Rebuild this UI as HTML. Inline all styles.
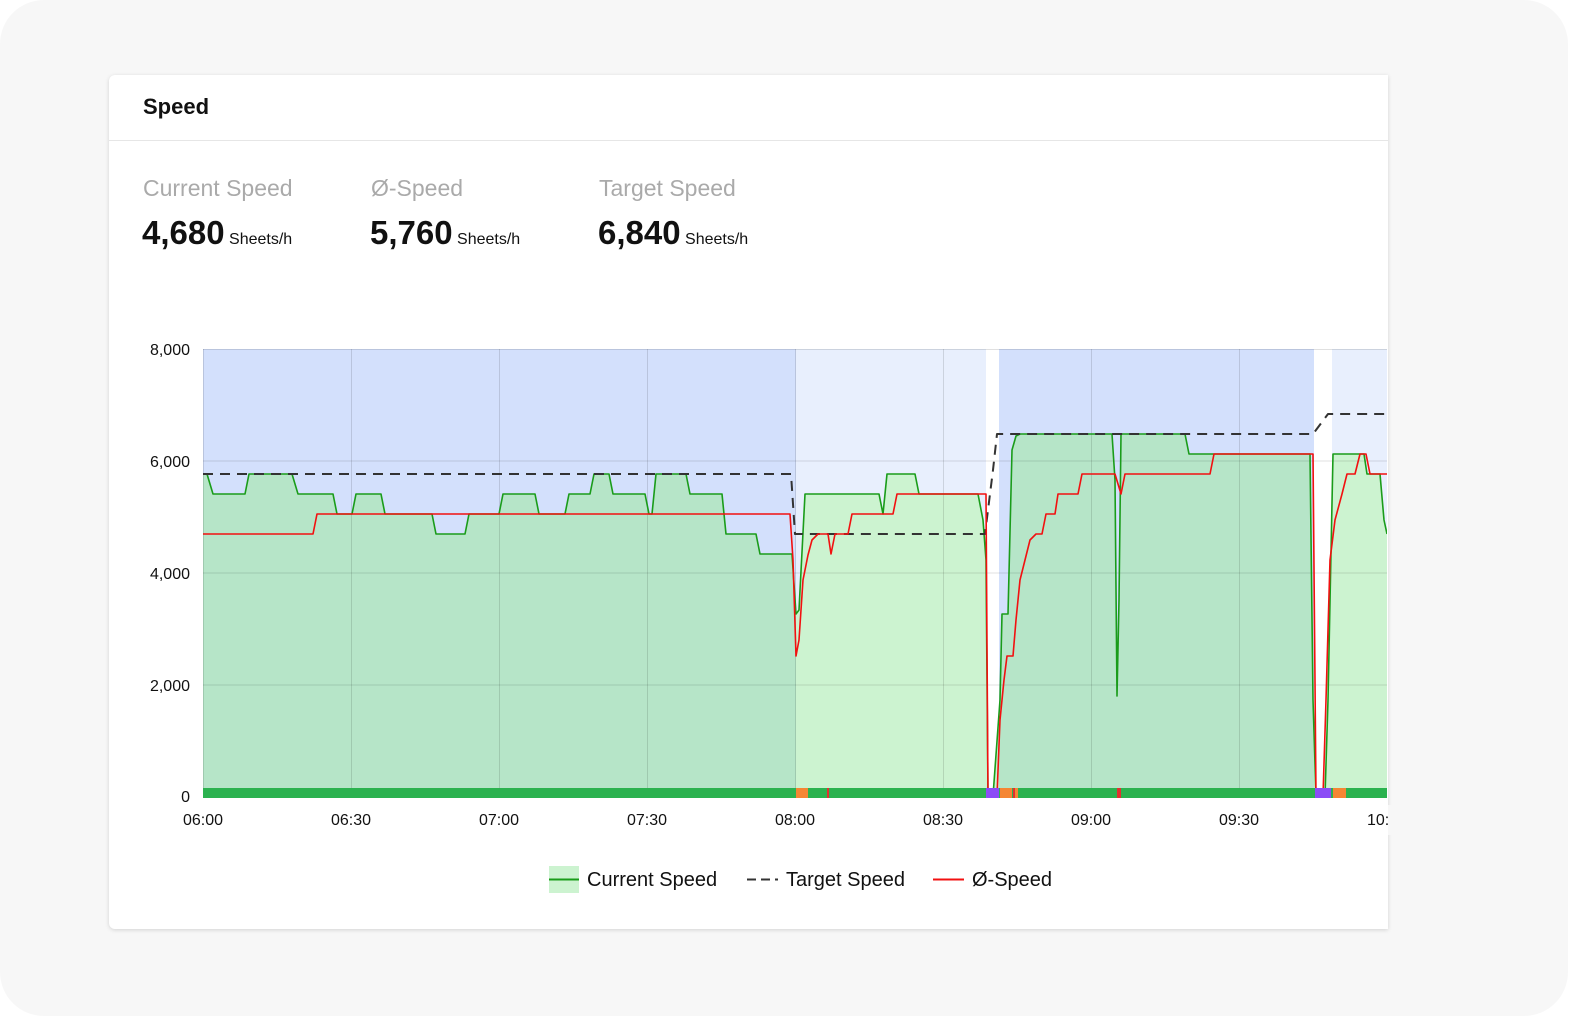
<!DOCTYPE html>
<html><head><meta charset="utf-8"><style>
html,body{margin:0;padding:0;width:1574px;height:1020px;overflow:hidden;background:#fff;font-family:"Liberation Sans",sans-serif}
.outer{position:absolute;left:0;top:0;width:1568px;height:1016px;background:#f7f7f7;border-radius:44px}
.card{position:absolute;left:109px;top:75px;width:1279px;height:854px;background:#fff;border-radius:6px 0 0 6px;box-shadow:0 1px 4px rgba(0,0,0,.15)}
.t{position:absolute;white-space:nowrap}
</style></head><body>
<div class="outer"></div>
<div class="card"></div>
<div class="t" style="left:143px;top:94px;font-size:22px;font-weight:bold;color:#111">Speed</div>
<div style="position:absolute;left:109px;top:140px;width:1279px;height:1px;background:#e6e6e6"></div>
<div class="t" style="left:143px;top:175px;font-size:23px;color:#aaa">Current Speed</div>
<div class="t" style="left:371px;top:175px;font-size:23px;color:#aaa">Ø-Speed</div>
<div class="t" style="left:599px;top:175px;font-size:23px;color:#aaa">Target Speed</div>
<div class="t" style="left:142px;top:214px;color:#111"><b style="font-size:33px">4,680</b><span style="font-size:16px"> Sheets/h</span></div>
<div class="t" style="left:370px;top:214px;color:#111"><b style="font-size:33px">5,760</b><span style="font-size:16px"> Sheets/h</span></div>
<div class="t" style="left:598px;top:214px;color:#111"><b style="font-size:33px">6,840</b><span style="font-size:16px"> Sheets/h</span></div>
<svg width="1574" height="1020" style="position:absolute;left:0;top:0" font-family="Liberation Sans,sans-serif">
<defs>
<clipPath id="dk"><rect x="203" y="349" width="593" height="448"/><rect x="999" y="349" width="315" height="448"/></clipPath>
<clipPath id="lt"><rect x="796" y="349" width="203" height="448"/><rect x="1314" y="349" width="73" height="448"/></clipPath>
<clipPath id="ch"><rect x="203" y="340" width="1184" height="460"/></clipPath>
</defs>
<rect x="203" y="349" width="593" height="448" fill="#d3e0fc"/>
<rect x="796" y="349" width="190" height="448" fill="#e8effd"/>
<rect x="999" y="349" width="315" height="448" fill="#d3e0fc"/>
<rect x="1332" y="349" width="55" height="448" fill="#e8effd"/>
<path d="M203,796 L203,474 207,474 213,494 245,494 249,474 292,474 298,494 333,494 337,514 352,514 356,494 381,494 385,514 432,514 436,534 465,534 469,514 499,514 503,494 535,494 539,514 565,514 569,494 590,494 594,474 609,474 613,494 645,494 649,514 652,514 656,474 686,474 690,494 722,494 726,534 756,534 760,554 792,554 796,614 799,610 805,494 879,494 883,514 887,474 915,474 919,494 978,494 983,520 986,560 988,796 993,796 1000,700 1002,614 1008,614 1012,450 1016,436 1020,434 1112,434 1115,480 1117,696 1119,600 1121,434 1185,434 1189,454 1310,454 1313,700 1316,796 1325,796 1328,700 1333,454 1364,454 1367,474 1380,474 1384,520 1387,534 1387,796 Z" fill="#b6e5c8" clip-path="url(#dk)"/>
<path d="M203,796 L203,474 207,474 213,494 245,494 249,474 292,474 298,494 333,494 337,514 352,514 356,494 381,494 385,514 432,514 436,534 465,534 469,514 499,514 503,494 535,494 539,514 565,514 569,494 590,494 594,474 609,474 613,494 645,494 649,514 652,514 656,474 686,474 690,494 722,494 726,534 756,534 760,554 792,554 796,614 799,610 805,494 879,494 883,514 887,474 915,474 919,494 978,494 983,520 986,560 988,796 993,796 1000,700 1002,614 1008,614 1012,450 1016,436 1020,434 1112,434 1115,480 1117,696 1119,600 1121,434 1185,434 1189,454 1310,454 1313,700 1316,796 1325,796 1328,700 1333,454 1364,454 1367,474 1380,474 1384,520 1387,534 1387,796 Z" fill="#ccf3d0" clip-path="url(#lt)"/>
<g stroke="rgba(0,0,0,0.12)" stroke-width="1">
<line x1="203" x2="1387" y1="349.5" y2="349.5"/><line x1="203" x2="1387" y1="461" y2="461"/><line x1="203" x2="1387" y1="573" y2="573"/><line x1="203" x2="1387" y1="685" y2="685"/>
<line x1="203.5" x2="203.5" y1="349" y2="797"/><line x1="351.5" x2="351.5" y1="349" y2="797"/><line x1="499.5" x2="499.5" y1="349" y2="797"/><line x1="647.5" x2="647.5" y1="349" y2="797"/><line x1="795.5" x2="795.5" y1="349" y2="797"/><line x1="943.5" x2="943.5" y1="349" y2="797"/><line x1="1091.5" x2="1091.5" y1="349" y2="797"/><line x1="1239.5" x2="1239.5" y1="349" y2="797"/>
</g>
<g clip-path="url(#ch)" fill="none" stroke-width="1.6" stroke-linejoin="round">
<path stroke="#1a9c1a" d="M203,474 207,474 213,494 245,494 249,474 292,474 298,494 333,494 337,514 352,514 356,494 381,494 385,514 432,514 436,534 465,534 469,514 499,514 503,494 535,494 539,514 565,514 569,494 590,494 594,474 609,474 613,494 645,494 649,514 652,514 656,474 686,474 690,494 722,494 726,534 756,534 760,554 792,554 796,614 799,610 805,494 879,494 883,514 887,474 915,474 919,494 978,494 983,520 986,560 988,796 993,796 1000,700 1002,614 1008,614 1012,450 1016,436 1020,434 1112,434 1115,480 1117,696 1119,600 1121,434 1185,434 1189,454 1310,454 1313,700 1316,796 1325,796 1328,700 1333,454 1364,454 1367,474 1380,474 1384,520 1387,534"/>
<path stroke="#333" stroke-width="2" stroke-dasharray="10,7" d="M203,474 791,474 795,534 985,534 993,470 997,434 1313,434 1328,414 1387,414"/>
<path stroke="#f21010" d="M203,534 313,534 317,514 790,514 793,560 796,656 799,640 803,580 808,555 812,540 818,534 828,534 831,554 835,534 848,534 852,514 893,514 897,494 986,494 988,796 997,796 1000,720 1004,680 1007,656 1013,656 1016,620 1020,580 1025,560 1030,540 1036,534 1042,534 1046,514 1055,514 1058,494 1078,494 1082,474 1115,474 1121,494 1125,474 1210,474 1214,454 1313,454 1316,796 1323,796 1326,700 1330,560 1335,520 1342,494 1347,474 1355,474 1360,454 1366,454 1370,474 1387,474"/>
</g>
<rect x="203" y="788" width="1184" height="10" fill="#2bb24f"/>
<rect x="796" y="788" width="12" height="10" fill="#f58634"/>
<rect x="827" y="788" width="2" height="10" fill="#e23030"/>
<rect x="986" y="788" width="13" height="10" fill="#8b4cf6"/>
<rect x="1000" y="788" width="12" height="10" fill="#f58634"/>
<rect x="1013" y="788" width="2" height="10" fill="#e23030"/>
<rect x="1015" y="788" width="3" height="10" fill="#f58634"/>
<rect x="1117" y="788" width="4" height="10" fill="#e23030"/>
<rect x="1315" y="788" width="16" height="10" fill="#8b4cf6"/>
<rect x="1333" y="788" width="13" height="10" fill="#f58634"/>
<g font-size="16" fill="#111" text-anchor="end">
<text x="190" y="355">8,000</text><text x="190" y="467">6,000</text><text x="190" y="579">4,000</text><text x="190" y="691">2,000</text><text x="190" y="802">0</text>
</g>
<g font-size="16" fill="#111" text-anchor="middle">
<text x="203" y="825">06:00</text><text x="351" y="825">06:30</text><text x="499" y="825">07:00</text><text x="647" y="825">07:30</text><text x="795" y="825">08:00</text><text x="943" y="825">08:30</text><text x="1091" y="825">09:00</text><text x="1239" y="825">09:30</text>
<text x="1387" y="825">10:00</text>
</g>
<rect x="1388" y="805" width="60" height="30" fill="#f7f7f7"/>
<rect x="549" y="866" width="30" height="27" fill="#ccf3d0"/>
<line x1="549" x2="579" y1="879.5" y2="879.5" stroke="#1a9c1a" stroke-width="2"/>
<text x="587" y="886" font-size="20" fill="#111">Current Speed</text>
<line x1="747" x2="778" y1="879.5" y2="879.5" stroke="#333" stroke-width="2" stroke-dasharray="9,5"/>
<text x="786" y="886" font-size="20" fill="#111">Target Speed</text>
<line x1="933" x2="964" y1="879.5" y2="879.5" stroke="#f21010" stroke-width="2"/>
<text x="972" y="886" font-size="20" fill="#111">Ø-Speed</text>
</svg>
</body></html>
